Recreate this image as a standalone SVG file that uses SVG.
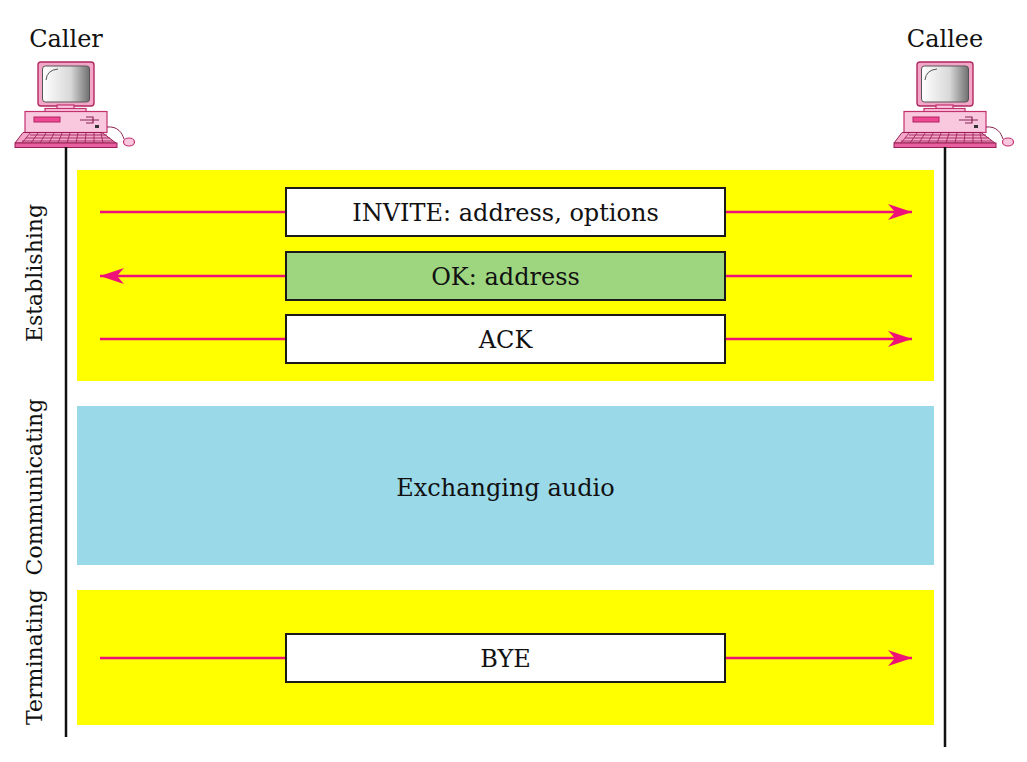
<svg xmlns="http://www.w3.org/2000/svg" width="1027" height="762" viewBox="0 0 1027 762">
<defs>
<style>
.t{font-family:"DejaVu Serif","Liberation Serif",serif;font-size:24px;fill:#111;text-anchor:middle}
.v{font-size:22px}
.box{stroke:#1a1a1a;stroke-width:2}
.msg{stroke:#ee1177;stroke-width:2.5;fill:none}
.life{stroke:#111;stroke-width:2.5}
.pk{fill:#f9c8de;stroke:#c2306e;stroke-width:1.2}
.dk{fill:#ee4a93;stroke:#b02060;stroke-width:1}
</style>
<marker id="ah" viewBox="0 0 24 16" refX="24" refY="8" markerWidth="24" markerHeight="16" markerUnits="userSpaceOnUse" orient="auto">
<path d="M0,0 L24,8 L0,16 L7,8 Z" fill="#ee1177"/>
</marker>
<linearGradient id="scr" x1="0" y1="0" x2="1" y2="0">
<stop offset="0" stop-color="#ffffff"/>
<stop offset="0.6" stop-color="#d8d8d8"/>
<stop offset="1" stop-color="#707070"/>
</linearGradient>
<g id="pc">
<rect x="38" y="62" width="56" height="44" rx="3" fill="#f3a6c8" stroke="#b0285f" stroke-width="1.4"/>
<rect x="42.5" y="66" width="47" height="36" rx="3" fill="url(#scr)" stroke="#555" stroke-width="1"/>
<path d="M46,80 Q47,70 58,69" fill="none" stroke="#555" stroke-width="1"/>
<rect x="57" y="105" width="17" height="4" class="pk"/>
<rect x="45" y="108.5" width="41" height="3.5" class="pk"/>
<rect x="25" y="111.5" width="82" height="21" class="pk"/>
<rect x="34" y="117" width="26" height="5" class="dk"/>
<path d="M80,120 L99,120 M86,117 L93,117 L93,123 L86,123" fill="none" stroke="#8a2050" stroke-width="1.2"/>
<rect x="95" y="125" width="4" height="3" fill="#333"/>
<path d="M107,127 C118,126 122,133 124,139" fill="none" stroke="#8a2050" stroke-width="1"/>
<ellipse cx="129" cy="142" rx="5.5" ry="4" class="pk"/>
<path d="M23,132.5 L102,132.5 L116,143 L15,143 Z" fill="#f3a6c8" stroke="#9a1f55" stroke-width="1"/>
<path d="M30,135 L107,135 M26,138 L110,138 M22,141 L113,141" stroke="#a0245c" stroke-width="0.9"/>
<path d="M30,133 L22,143 M38,133 L31,143 M46,133 L40,143 M54,133 L49,143 M62,133 L58,143 M70,133 L67,143 M78,133 L76,143 M86,133 L85,143 M94,133 L94,143 M101,133 L103,143" stroke="#a0245c" stroke-width="0.9"/>
<rect x="15" y="143" width="102" height="4.5" fill="#e8609f" stroke="#9a1f55" stroke-width="1"/>
</g>
</defs>
<rect width="1027" height="762" fill="#ffffff"/>

<g id="bands">
<rect x="77" y="170" width="857" height="211" fill="#ffff00"/>
<rect x="77" y="406" width="857" height="159" fill="#9ad9e8"/>
<rect x="77" y="590" width="857" height="135" fill="#ffff00"/>
</g>

<g id="caller">
<use href="#pc"/>
<text class="t" x="66" y="47">Caller</text>
</g>
<g id="callee">
<use href="#pc" transform="translate(879,0)"/>
<text class="t" x="945" y="47">Callee</text>
</g>

<g id="phase-labels">
<text class="t v" transform="translate(42,273) rotate(-90)">Establishing</text>
<text class="t v" transform="translate(42,487) rotate(-90)">Communicating</text>
<text class="t v" transform="translate(42,657) rotate(-90)">Terminating</text>
</g>

<g id="connectors">
<line class="life" x1="66" y1="147" x2="66" y2="737"/>
<line class="life" x1="945" y1="147" x2="945" y2="747"/>
<line class="msg" x1="100" y1="212" x2="912" y2="212" marker-end="url(#ah)"/>
<line class="msg" x1="912" y1="276" x2="100" y2="276" marker-end="url(#ah)"/>
<line class="msg" x1="100" y1="339" x2="912" y2="339" marker-end="url(#ah)"/>
<line class="msg" x1="100" y1="658" x2="912" y2="658" marker-end="url(#ah)"/>
</g>

<g id="invite">
<rect class="box" x="286" y="188" width="439" height="48" fill="#ffffff"/>
<text class="t" x="505.5" y="221">INVITE: address, options</text>
</g>
<g id="ok">
<rect class="box" x="286" y="252" width="439" height="48" fill="#9ed680"/>
<text class="t" x="505.5" y="285">OK: address</text>
</g>
<g id="ack">
<rect class="box" x="286" y="315" width="439" height="48" fill="#ffffff"/>
<text class="t" x="505.5" y="348">ACK</text>
</g>
<g id="audio">
<text class="t" x="505.5" y="496">Exchanging audio</text>
</g>
<g id="bye">
<rect class="box" x="286" y="634" width="439" height="48" fill="#ffffff"/>
<text class="t" x="505.5" y="667">BYE</text>
</g>
</svg>
